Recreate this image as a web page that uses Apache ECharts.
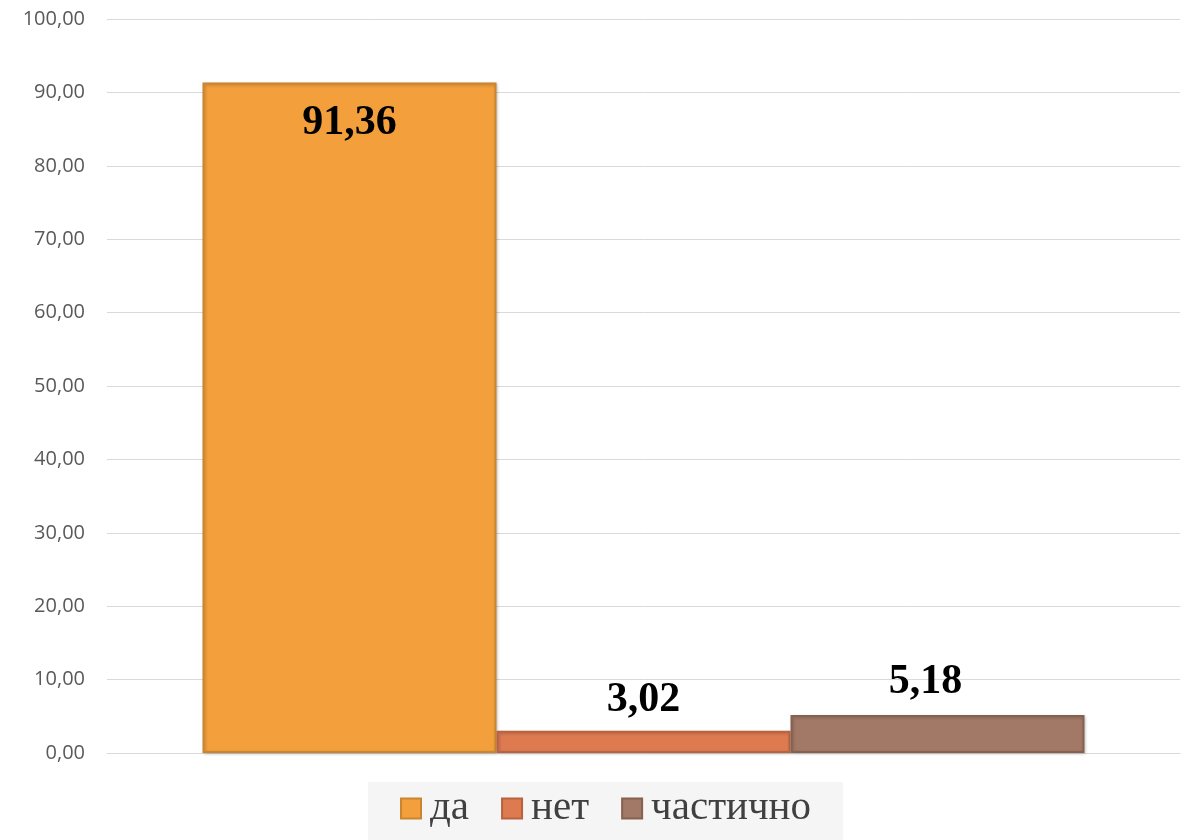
<!DOCTYPE html>
<html><head><meta charset="utf-8">
<script src="https://cdn.jsdelivr.net/npm/echarts@6/dist/echarts.min.js"></script>
<style>html,body{margin:0;padding:0;background:#fff}#c{width:1190px;height:840px}</style>
</head><body><div id="c"></div>
<script>
const categories = [''];
const seriesNames = ['да', 'нет', 'частично'];
const valDa = [91.36];
const valNet = [3.02];
const valChast = [5.18];
const colors = ['#F29F3C', '#DD7A50', '#A27866'];
const borders = ['#C98530', '#B86240', '#86614F'];
const yMin = 0, yMax = 100, yStep = 10;

const fmt = v => v.toFixed(2).replace('.', ',');
const chart = echarts.init(document.getElementById('c'));
const dataSets = [valDa, valNet, valChast];
const labelPos = ['insideTop', 'top', 'top'];
const labelDist = [20, 10, 12];
const labelOff = [[0, 0], [0, 0], [-12, 0]];
const serif = 'Liberation Serif';
const legendText = { fontFamily: serif, fontSize: 41, color: '#404040', padding: [0, 0, 0, 4] };
chart.setOption({
  animation: false,
  textStyle: { fontFamily: serif },
  grid: { left: 107, right: 10, top: 19, bottom: 87 },
  xAxis: { type: 'category', data: categories, axisLine: { show: true, lineStyle: { color: '#D9D9D9' } },
    axisTick: { show: false }, axisLabel: { show: false } },
  yAxis: { type: 'value', min: yMin, max: yMax, interval: yStep,
    axisLine: { show: false }, axisTick: { show: false },
    splitLine: { lineStyle: { color: '#D9D9D9', width: 1 } },
    axisLabel: { formatter: v => fmt(v), color: '#595959', fontSize: 20, margin: 22, fontFamily: 'Open Sans' } },
  legend: {
    data: seriesNames, top: 782, left: 368, icon: 'rect',
    backgroundColor: '#F5F5F5', padding: [6, 32, 30, 32],
    itemWidth: 20, itemHeight: 20, itemGap: 32,
    textStyle: legendText
  },
  series: seriesNames.map((n, i) => ({
    name: n, type: 'bar', data: dataSets[i], barWidth: 294, barGap: '0%',
    itemStyle: { color: colors[i], borderColor: borders[i], borderWidth: 2,
      shadowColor: 'rgba(0,0,0,0.2)', shadowBlur: 3, shadowOffsetX: 1, shadowOffsetY: 1 },
    label: { show: true, position: labelPos[i], distance: labelDist[i], offset: labelOff[i], formatter: p => fmt(p.value),
      fontFamily: serif, fontWeight: 'bold', fontSize: 42, color: '#000' }
  }))
});
</script></body></html>
